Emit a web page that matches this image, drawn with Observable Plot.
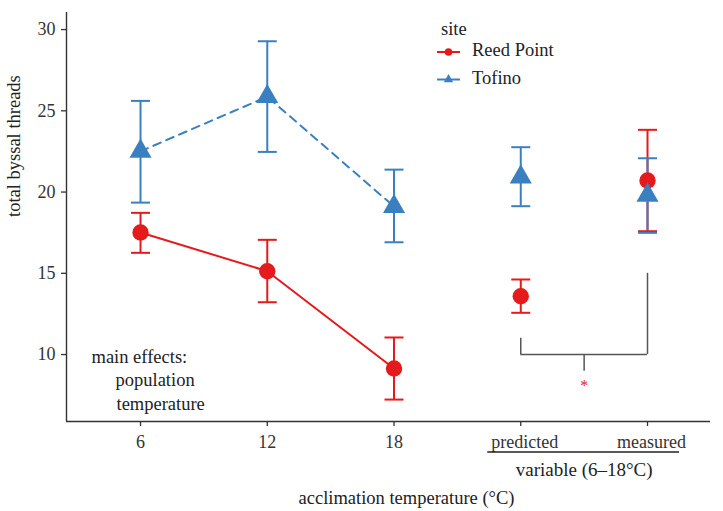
<!DOCTYPE html>
<html><head><meta charset="utf-8">
<script src="https://cdn.jsdelivr.net/npm/d3@7"></script>
<script src="https://cdn.jsdelivr.net/npm/@observablehq/plot@0.6"></script>
<style>
body{margin:0;background:#fff;}
#chart{width:723px;height:511px;}
</style></head><body><div id="chart"></div>
<script>
const sites = ["Reed Point", "Tofino"];
const siteColors = ["#E41A1C", "#3A80C0"];
const siteSymbols = ["circle", "triangle"];
const xPositions = [1, 2, 3, 4, 5];
const xTickLabels = ["6", "12", "18", "predicted", "measured"];
const connected = [true, true, true, false, false];
const yTicks = [10, 15, 20, 25, 30];

const reedMean = [17.51, 15.13, 9.14, 13.59, 20.71];
const reedLow  = [16.26, 13.22, 7.23, 12.57, 17.59];
const reedHigh = [18.72, 17.06, 11.05, 14.62, 23.83];
const tofinoMean = [22.51, 25.87, 19.11, 20.92, 19.80];
const tofinoLow  = [19.35, 22.47, 16.91, 19.13, 17.49];
const tofinoHigh = [25.61, 29.28, 21.38, 22.76, 22.08];

const bracketX = [4, 5];
const bracketTop = [11.0, 15.0];
const bracketBase = 10.0;
const bracketMidX = 4.5;
const bracketMidEnd = 8.97;
const starLabel = "*";
const starY = 8.1;

const xTitle = "acclimation temperature (°C)";
const yTitle = "total byssal threads";
const groupTitle = "variable (6–18°C)";
const legendTitle = "site";
const annotation = ["main effects:", "population", "temperature"];

const xDomain = [0.416, 5.497];
const yDomain = [5.88, 31.05];

const series = [
  {site: sites[0], mean: reedMean, low: reedLow, high: reedHigh},
  {site: sites[1], mean: tofinoMean, low: tofinoLow, high: tofinoHigh}
];
const rows = series.flatMap(s => xPositions.map((x, i) => ({
  site: s.site, x, mean: s.mean[i], low: s.low[i], high: s.high[i], connected: connected[i]
})));

const FONT = "'Liberation Serif','Times New Roman',serif";
const TXT = 18.5;
const TICK = 18;
const capSymbol = {draw(ctx, size) { const w = Math.sqrt(size); ctx.moveTo(-w, 0); ctx.lineTo(w, 0); }};
const capR = 9.5 / Math.sqrt(Math.PI);

function extras(index, scales, values, dims) {
  const g = d3.create("svg:g").attr("font-family", FONT).attr("text-anchor", "start");
  const x = scales.x;
  const yb = dims.height - dims.marginBottom;
  // group underline
  g.append("line").attr("x1", x(4) - 33).attr("x2", x(5) + 32)
    .attr("y1", yb + 31).attr("y2", yb + 31).attr("stroke", "#222").attr("stroke-width", 1.3);
  // legend
  const lg = g.append("g").attr("transform", "translate(437,0)");
  lg.append("text").attr("x", 4).attr("y", 35).attr("font-size", TXT).attr("fill", "#222").attr("text-anchor", "start").text(legendTitle);
  const rowY = [52, 79.5];
  sites.forEach((s, i) => {
    const r = lg.append("g").attr("transform", `translate(0,${rowY[i]})`);
    r.append("line").attr("x1", 0).attr("x2", 23).attr("stroke", siteColors[i]).attr("stroke-width", 2);
    if (siteSymbols[i] === "circle") r.append("circle").attr("cx", 11.5).attr("r", 3.8).attr("fill", siteColors[i]);
    else r.append("path").attr("d", d3.symbol(d3.symbolTriangle, 38)()).attr("transform", "translate(11.5,0)").attr("fill", siteColors[i]);
    r.append("text").attr("x", 35).attr("y", 4).attr("font-size", TXT).attr("fill", "#222").attr("text-anchor", "start").text(s);
  });
  return g.node();
}

const plot = Plot.plot({
  width: 723, height: 511,
  marginLeft: 66, marginRight: 13, marginTop: 12, marginBottom: 90,
  style: {fontFamily: FONT, fontSize: "18px", color: "#333", background: "#fff"},
  x: {domain: xDomain, axis: null},
  y: {domain: yDomain, axis: null},
  color: {domain: sites, range: siteColors},
  symbol: {domain: sites, range: siteSymbols},
  marks: [
    Plot.ruleX([xDomain[0]], {stroke: "#333", strokeWidth: 1.4}),
    Plot.ruleY([yDomain[0]], {stroke: "#333", strokeWidth: 1.4}),
    Plot.axisY({ticks: yTicks, tickSize: 5, tickPadding: 6, fontSize: TICK, label: null, strokeWidth: 1.3}),
    Plot.axisX({ticks: xPositions, tickSize: 5, tickFormat: () => "", label: null, strokeWidth: 1.3}),
    Plot.axisX({ticks: xPositions.slice(0, 3), tickSize: 0, tickPadding: 14, fontSize: TICK,
      tickFormat: v => xTickLabels[v - 1], label: null}),
    Plot.axisX({ticks: xPositions.slice(3), tickSize: 0, tickPadding: 14, fontSize: TICK, dx: 4,
      tickFormat: v => xTickLabels[v - 1], label: null}),
    Plot.line(rows.filter(d => d.connected && d.site === sites[0]), {x: "x", y: "mean", stroke: "site", strokeWidth: 2}),
    Plot.line(rows.filter(d => d.connected && d.site === sites[1]), {x: "x", y: "mean", stroke: "site", strokeWidth: 2, strokeDasharray: "8,6"}),
    Plot.ruleX(rows, {x: "x", y1: "low", y2: "high", stroke: "site", strokeWidth: 2}),
    Plot.dot(rows, {x: "x", y: "low", symbol: capSymbol, r: capR, stroke: "site", fill: "none", strokeWidth: 2}),
    Plot.dot(rows, {x: "x", y: "high", symbol: capSymbol, r: capR, stroke: "site", fill: "none", strokeWidth: 2}),
    Plot.dot(rows, {x: "x", y: "mean", symbol: "site", fill: "site", r: 8.2, stroke: null}),
    Plot.ruleX(bracketX.map((x, i) => ({x, top: bracketTop[i]})), {x: "x", y1: bracketBase, y2: "top", stroke: "#555", strokeWidth: 1.5}),
    Plot.ruleY([bracketBase], {x1: bracketX[0], x2: bracketX[1], stroke: "#555", strokeWidth: 1.5}),
    Plot.ruleX([bracketMidX], {y1: bracketBase, y2: bracketMidEnd, stroke: "#555", strokeWidth: 1.5}),
    Plot.text([starLabel], {x: bracketMidX, y: starY, text: d => d, fill: "#E41A1C", fontSize: 16}),
    Plot.text([annotation[0]], {frameAnchor: "bottom-left", dx: 25, dy: -59, lineAnchor: "bottom", textAnchor: "start", text: d => d, fontSize: TXT, fill: "#222"}),
    Plot.text([annotation[1]], {frameAnchor: "bottom-left", dx: 49, dy: -36, lineAnchor: "bottom", textAnchor: "start", text: d => d, fontSize: TXT, fill: "#222"}),
    Plot.text([annotation[2]], {frameAnchor: "bottom-left", dx: 50, dy: -12, lineAnchor: "bottom", textAnchor: "start", text: d => d, fontSize: TXT, fill: "#222"}),
    Plot.text([groupTitle], {x: bracketMidX, frameAnchor: "bottom", dy: 54, lineAnchor: "bottom", text: d => d, fontSize: 19, fill: "#222"}),
    Plot.text([xTitle], {frameAnchor: "bottom", dx: 18, dy: 82, lineAnchor: "bottom", text: d => d, fontSize: TXT, fill: "#222"}),
    Plot.text([yTitle], {frameAnchor: "left", dx: -47, rotate: -90, lineAnchor: "bottom", text: d => d, fontSize: TXT, fill: "#222"}),
    extras
  ]
});
document.getElementById("chart").append(plot);
</script></body></html>
